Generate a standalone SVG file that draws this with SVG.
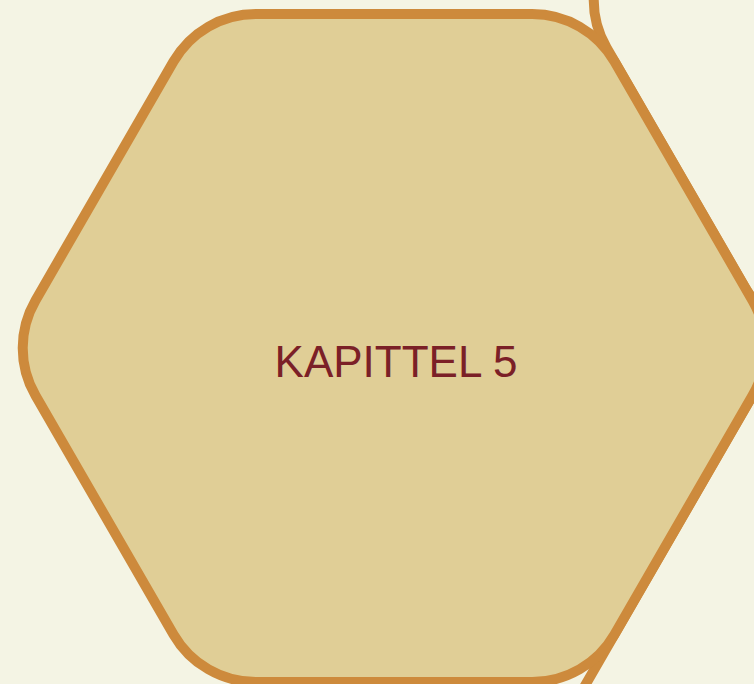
<svg xmlns="http://www.w3.org/2000/svg" xmlns:xlink="http://www.w3.org/1999/xlink" width="754" height="684" viewBox="0 0 754 684">
  <style>
    .bg { fill: #f4f4e4; }
    .hex { stroke: #cd8a3c; stroke-width: 10; }
    .main { fill: #e0ce96; }
    .side { fill: #f4f4e4; }
    .label { font-family: "Liberation Sans", Arial, sans-serif; font-size: 44px; fill: #7b2027; text-anchor: middle; }
  </style>
  <defs>
    <path id="hexshape" d="M -358.5 -47.6 L -220.5 -286.4 A 95 95 0 0 1 -138 -334 L 138 -334 A 95 95 0 0 1 220.5 -286.4 L 358.5 -47.6 A 95 95 0 0 1 358.5 47.6 L 220.5 286.4 A 95 95 0 0 1 138 334 L -138 334 A 95 95 0 0 1 -220.5 286.4 L -358.5 47.6 A 95 95 0 0 1 -358.5 -47.6 Z"/>
    <path id="hexshape-large" d="M -435.7 -47.6 L -259.1 -353.5 A 95 95 0 0 1 -176.6 -401.1 L 176.6 -401.1 A 95 95 0 0 1 259.1 -353.5 L 435.7 -47.6 A 95 95 0 0 1 435.7 47.6 L 259.1 353.5 A 95 95 0 0 1 176.6 401.1 L -176.6 401.1 A 95 95 0 0 1 -259.1 353.5 L -435.7 47.6 A 95 95 0 0 1 -435.7 -47.6 Z"/>
  </defs>
  <rect class="bg" x="0" y="0" width="754" height="684"/>
  <g id="node-neighbor-top">
    <use xlink:href="#hexshape" href="#hexshape" class="hex side" transform="translate(965 0)"/>
  </g>
  <g id="node-neighbor-bottom">
    <use xlink:href="#hexshape-large" href="#hexshape-large" class="hex side" transform="translate(1020.2 734)"/>
  </g>
  <g id="connectors"></g>
  <g id="node-kapittel-5">
    <use xlink:href="#hexshape" href="#hexshape" class="hex main" transform="translate(394 348)"/>
    <text class="label" x="396" y="377">KAPITTEL 5</text>
  </g>
</svg>
